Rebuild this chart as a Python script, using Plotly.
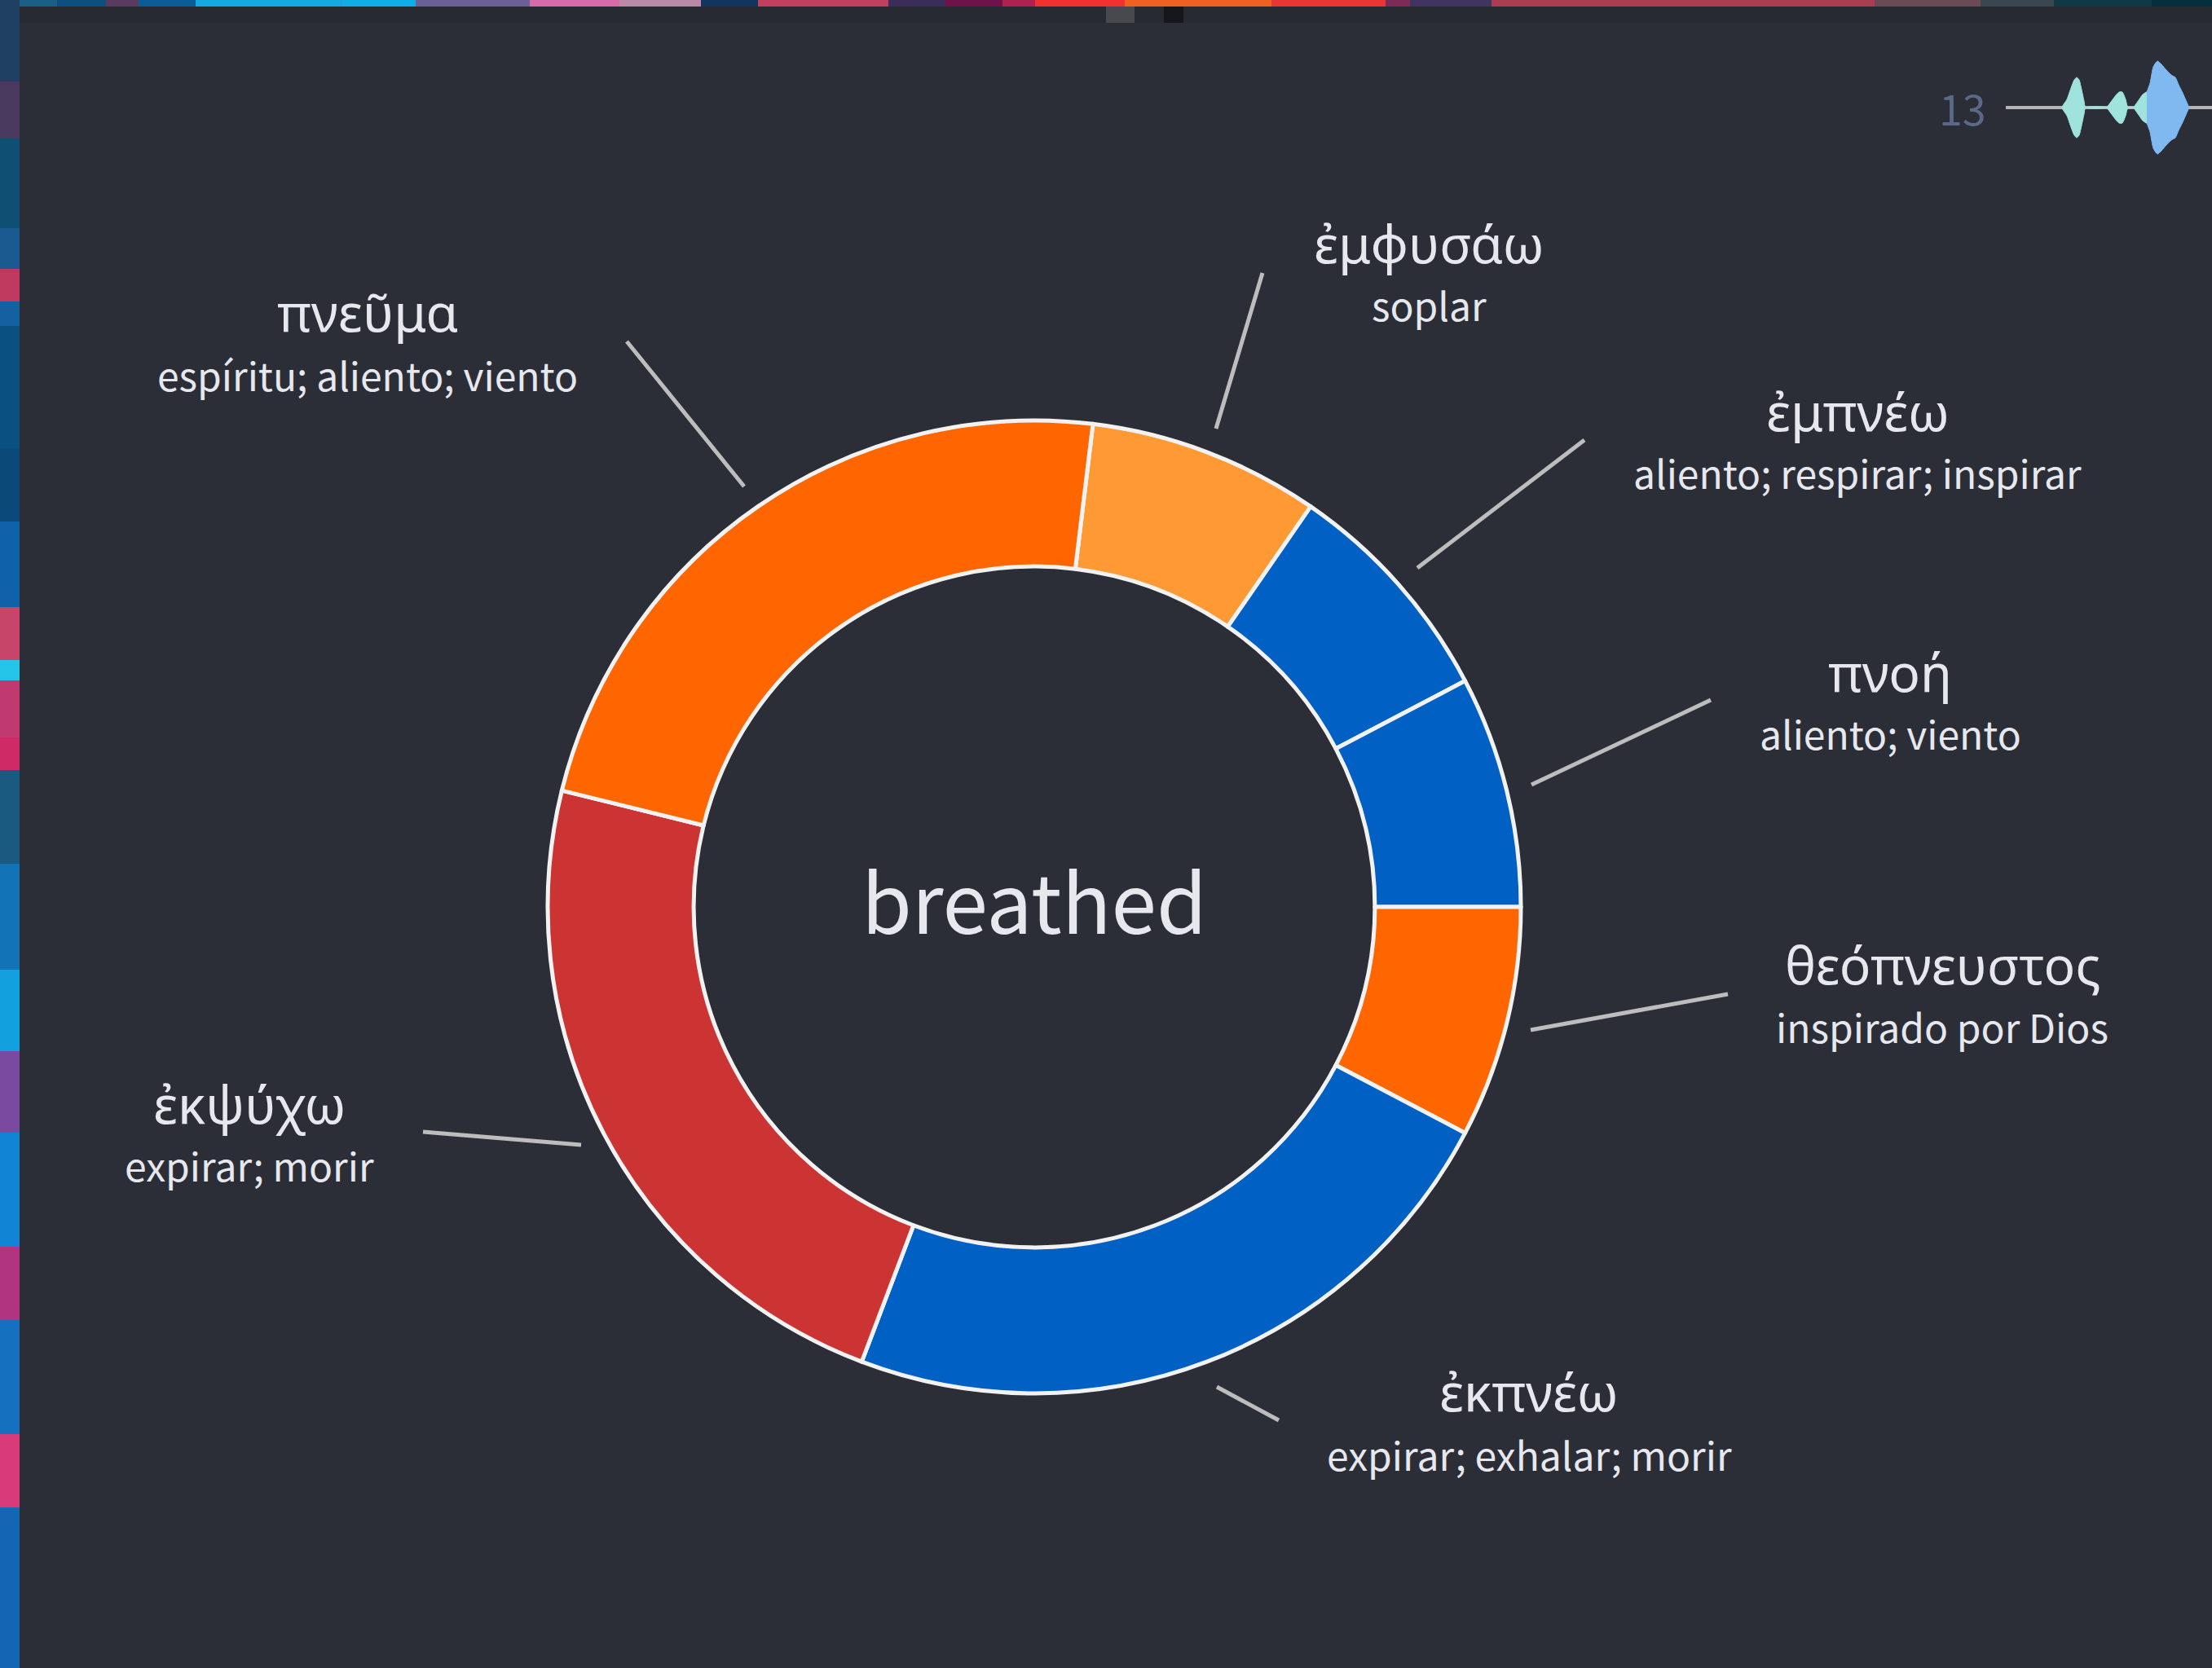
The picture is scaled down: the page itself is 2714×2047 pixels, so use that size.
import plotly.graph_objects as go

W, H = 2714, 2047
FONT = "Noto Sans CJK SC"
GREEK_FONT = "Noto Sans"

# donut
slice_names = ["ἐμφυσάω", "ἐμπνέω", "πνοή", "θεόπνευστος", "ἐκπνέω", "ἐκψύχω", "πνεῦμα"]
slice_values = [1, 1, 1, 1, 3, 3, 3]
slice_colors = ["#ff9933", "#0060c4", "#0060c4", "#ff6600", "#0060c4", "#cc3333", "#ff6600"]
center_word = "breathed"

# labels
greek_words = ["πνεῦμα", "ἐμφυσάω", "ἐμπνέω", "πνοή", "θεόπνευστος", "ἐκπνέω", "ἐκψύχω"]
glosses = ["espíritu; aliento; viento", "soplar", "aliento; respirar; inspirar", "aliento; viento",
           "inspirado por Dios", "expirar; exhalar; morir", "expirar; morir"]
label_x = [451, 1753, 2279, 2319, 2383, 1876, 306]
greek_y = [382, 298, 504, 824, 1183, 1707, 1354]
gloss_y = [459, 373, 579, 899, 1259, 1784, 1429]

# leader lines
leader_x0 = [769, 1549, 1944, 2099, 2120, 1569, 519]
leader_y0 = [419, 335, 540, 859, 1220, 1743, 1389]
leader_x1 = [913, 1492, 1739, 1879, 1878, 1493, 713]
leader_y1 = [597, 526, 697, 963, 1264, 1702, 1405]

# sparkline
page_number = "13"
spark_base_x = [2461, 2714]
spark_base_y = [132, 132]
teal_x = [2530, 2536, 2541, 2545, 2548, 2551, 2554, 2557, 2559, 2584, 2590, 2596, 2600, 2604, 2608, 2611,
          2617, 2624, 2629, 2634]
teal_amp = [0, 10, 24, 34, 37, 34, 22, 8, 0, 0, 7, 15, 19, 19, 10, 0, 0, 9, 16, 19]
blue_x = [2634, 2638, 2642, 2647, 2652, 2658, 2664, 2669, 2673, 2678, 2682, 2686]
blue_amp = [19, 30, 50, 57, 53, 46, 40, 37, 28, 18, 9, 0]

# decorative backdrop strips
top_colors = ["#1a5f86", "#0f4f7f", "#5a3a5e", "#0a5d96", "#14a9e0", "#10aee6", "#6a5f96", "#d76aa8", "#b88aa8",
              "#12355f", "#c23f5e", "#3a2d5a", "#70114a", "#b02050", "#f23030", "#f06020", "#e83535", "#7c2a56",
              "#3f3560", "#a83e50", "#6b4a55", "#3a4750", "#0d3a45", "#04303d"]
top_edges = [0, 70, 130, 170, 240, 420, 510, 650, 760, 860, 930, 1090, 1160, 1230, 1270, 1380, 1560, 1700,
             1730, 1830, 2300, 2430, 2520, 2640, 2714]
left_colors = ["#1f3f63", "#4a3a60", "#0f4f73", "#1a5a90", "#c0395f", "#1560a0", "#0a5080", "#0b4a78", "#0f62a8",
               "#c8456a", "#25c5ea", "#c03a70", "#d02a66", "#1a5a80", "#1273b5", "#13a0de", "#7a4aa0", "#1284d6",
               "#b03480", "#1670c0", "#d83a7a", "#1565b5"]
left_edges = [0, 100, 170, 280, 330, 370, 400, 550, 640, 745, 810, 835, 905, 945, 1060, 1190, 1290, 1390, 1530,
              1620, 1760, 1850, 2047]

shapes = []
shape = lambda x0, y0, x1, y1, c: dict(type="rect", xref="x", yref="y", x0=x0, y0=y0, x1=x1, y1=y1,
                                       fillcolor=c, line_width=0, layer="below")
shapes.append(shape(24, 8, W, 28, "#272a30"))
shapes.append(shape(1357, 8, 1392, 28, "#48494f"))
shapes.append(shape(1428, 8, 1452, 28, "#16171a"))
for i, c in enumerate(top_colors):
    shapes.append(shape(top_edges[i], 0, top_edges[i + 1], 8, c))
for i, c in enumerate(left_colors):
    shapes.append(shape(0, left_edges[i], 24, left_edges[i + 1], c))

fig = go.Figure()

for x0, y0, x1, y1 in zip(leader_x0, leader_y0, leader_x1, leader_y1):
    fig.add_trace(go.Scatter(x=[x0, x1], y=[y0, y1], mode="lines", line=dict(color="#bdbdbd", width=5),
                             hoverinfo="skip", showlegend=False))

fig.add_trace(go.Scatter(x=spark_base_x, y=spark_base_y, mode="lines", line=dict(color="#b5b5b5", width=4),
                         hoverinfo="skip", showlegend=False))
for xs, amp, col in [(teal_x, teal_amp, "#9fe3dc"), (blue_x, blue_amp, "#80b9f0")]:
    fig.add_trace(go.Scatter(x=xs + xs[::-1], y=[132 - a for a in amp] + [132 + a for a in amp[::-1]],
                             mode="lines", fill="toself", fillcolor=col,
                             line=dict(color=col, width=1, shape="spline", smoothing=0.6),
                             hoverinfo="skip", showlegend=False))

fig.add_trace(go.Pie(
    labels=slice_names, values=slice_values, sort=False, direction="clockwise", rotation=360 / 13 / 4,
    hole=0.7, marker=dict(colors=slice_colors, line=dict(color="#f2f2f2", width=5)), textinfo="none",
    domain=dict(x=[(1269 - 597) / W, (1269 + 597) / W], y=[1 - (1113 + 597) / H, 1 - (1113 - 597) / H]),
    showlegend=False, hoverinfo="label+value"))

annotations = [dict(x=1269, y=1102, xref="x", yref="y", text=center_word, showarrow=False,
                    font=dict(family=FONT, size=100, color="#e6e8ee")),
               dict(x=2408, y=131, xref="x", yref="y", text=page_number, showarrow=False,
                    font=dict(family=FONT, size=52, color="#5c6888"))]
for x, y1, y2, g, t in zip(label_x, greek_y, gloss_y, greek_words, glosses):
    annotations.append(dict(x=x, y=y1, xref="x", yref="y", text=g, showarrow=False,
                            font=dict(family=GREEK_FONT, size=64, color="#e6e8ee")))
    annotations.append(dict(x=x, y=y2, xref="x", yref="y", text=t, showarrow=False,
                            font=dict(family=FONT, size=48, color="#e6e8ee")))

fig.update_layout(
    width=W, height=H, margin=dict(l=0, r=0, t=0, b=0), paper_bgcolor="#2b2e37", plot_bgcolor="rgba(0,0,0,0)",
    xaxis=dict(range=[0, W], visible=False, fixedrange=True),
    yaxis=dict(range=[H, 0], visible=False, fixedrange=True),
    shapes=shapes, annotations=annotations, showlegend=False)
fig.write_html("out.html", config=dict(displayModeBar=False),
               post_script="document.body.style.margin='0';document.documentElement.style.overflow='hidden';")
